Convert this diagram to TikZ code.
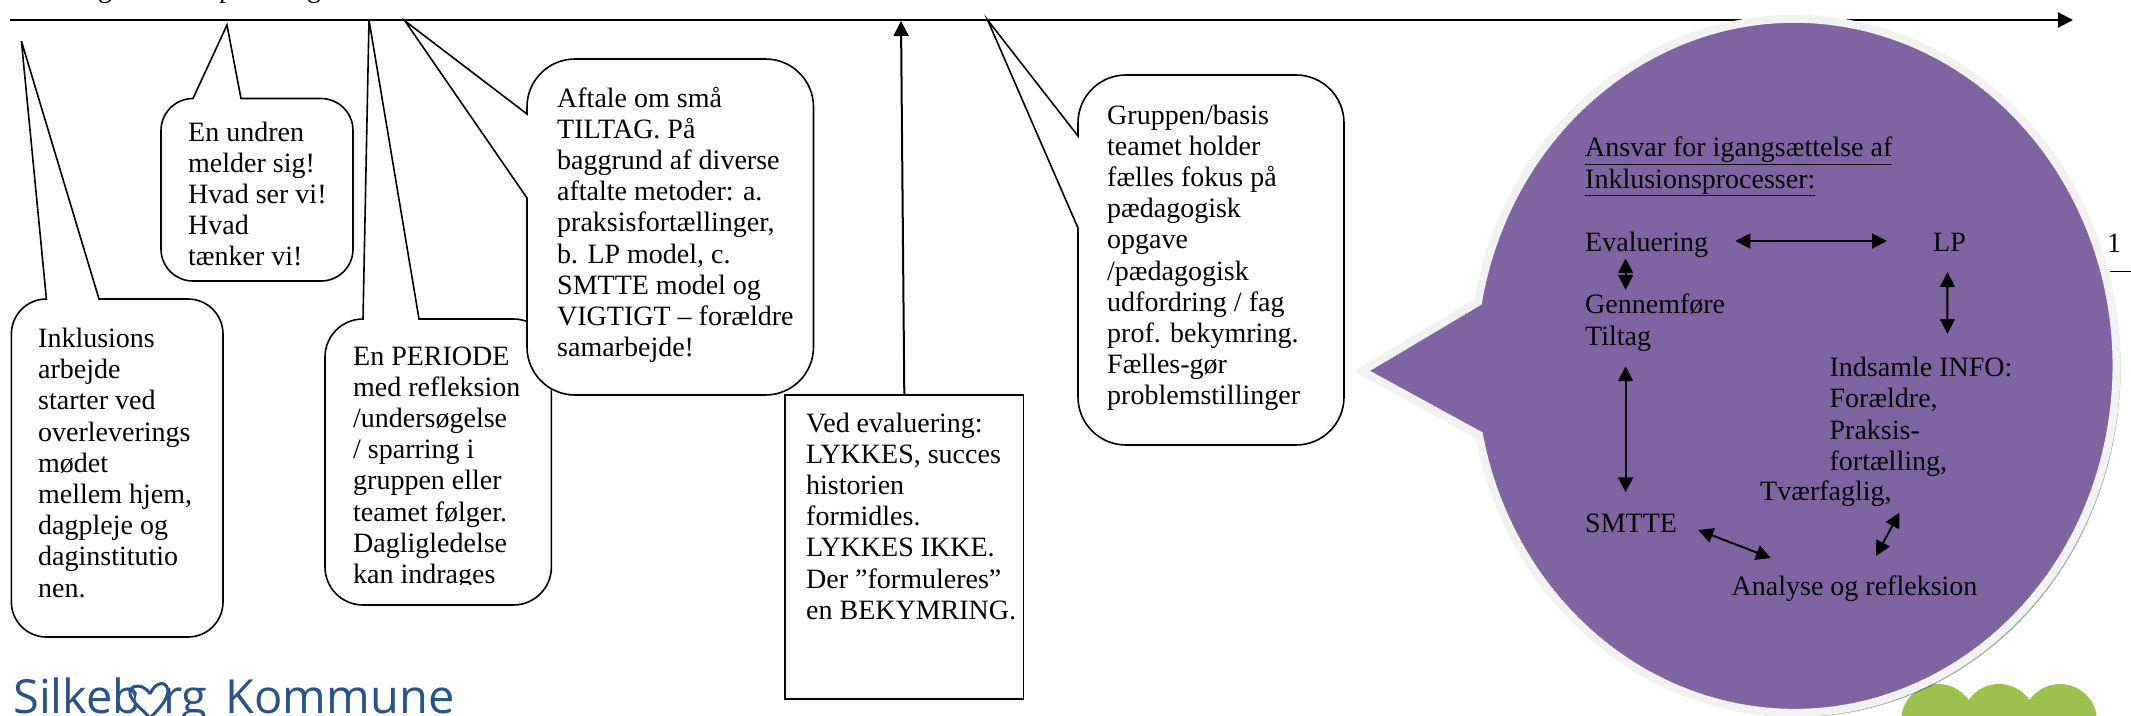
\documentclass[tikz,border=0pt]{standalone}
\usepackage{fontspec}
\usepackage{xcolor}
\setmainfont{Liberation Serif}
\newfontfamily\logofont{Open Sans}
\usetikzlibrary{arrows.meta, positioning}
\definecolor{bubblepurple}{HTML}{8064A2}
\definecolor{bubbleedge}{HTML}{F2F2F2}
\definecolor{logoblue}{HTML}{2A5287}
\definecolor{logogreen}{HTML}{9BC24E}
\tikzset{
  >={Triangle[length=15pt,width=15pt]},
  every node/.style={font=\fontsize{28}{31.2}\selectfont},
  txt/.style={anchor=base west,inner sep=0pt,align=left},
  bubble/.style={draw,fill=white,line width=1.6pt},
  dblarrow/.style={<->,line width=2pt},
}

\begin{document}
\begin{tikzpicture}[x=1pt,y=-1pt]
  \useasboundingbox (0,0) rectangle (2131,715);

  \fill[logogreen] (1938,721) circle (37) (1999,721) circle (37) (2060,721) circle (37);

  \node[txt] (topa) at (98,-3) {g};
  \node[txt] (topb) at (219,-3) {p};
  \node[txt] (topc) at (307,-3) {g};
  \coordinate (linestart) at (10,20);
  \coordinate (lineend) at (2073,20);
  \draw[->,line width=2.2pt] (linestart) -- (lineend);

  \node[txt] (pagenum) at (2107,252.7) {1};
  \draw[line width=1.5pt] (2110,271.7) -- ++(21,0);

  \draw[bubble] (46.4,299) -- (21.4,41) -- (99,299) [rounded corners=35pt] -- (223,299) -- (223,637)
    -- (11.4,637) -- (11.4,299) [sharp corners] -- cycle;
  \node[txt] (inklusion) at (38,597) {Inklusions\\arbejde\\starter ved\\overleverings\\mødet\\mellem hjem,\\dagpleje og\\daginstitutio\\nen.};

  \draw[bubble] (193,98.5) -- (227,25) -- (241,98.5) [rounded corners=32pt] -- (353,98.5) -- (353,281)
    -- (161,281) -- (161,98.5) [sharp corners] -- cycle;
  \begin{scope}
    \clip (170,110) rectangle (345,266);
    \node[txt] (undren) at (188,265.8) {En undren\\melder sig!\\Hvad ser vi!\\Hvad\\tænker vi!};
  \end{scope}

  \draw[bubble] (363,319) -- (369,20) -- (419,319) [rounded corners=38pt] -- (551.4,319) -- (551.4,605)
    -- (325,605) -- (325,319) [sharp corners] -- cycle;
  \begin{scope}
    \clip (335,330) rectangle (540,584);
    \node[txt] (periode) at (353,583.4) {En PERIODE\\med refleksion\\/undersøgelse\\/ sparring i\\gruppen eller\\teamet følger.\\Dagligledelse\\kan indrages};
  \end{scope}

  \draw[bubble] (527,114) -- (405,21) -- (527,198) [rounded corners=48pt] -- (527,395) -- (813.5,395)
    -- (813.5,59) -- (527,59) [sharp corners] -- cycle;
  \node[txt] (aftale) at (557,356.6) {Aftale om små\\TILTAG. På\\baggrund af diverse\\aftalte metoder: a.\\praksisfortællinger,\\b. LP model, c.\\SMTTE model og\\VIGTIGT – forældre\\samarbejde!};

  \node[draw,fill=white,line width=1.5pt,minimum width=238.6pt,minimum height=304pt] (evalbox) at (904.3,547) {};
  \coordinate (evaltip) at (901,21);
  \draw[->,line width=2pt] (evalbox.north) -- (evaltip);
  \node[txt] (ved) at (806,619.2) {Ved evaluering:\\LYKKES, succes\\historien\\formidles.\\LYKKES IKKE.\\Der ”formuleres”\\en BEKYMRING.};

  \draw[bubble] (1078,136) -- (987.6,20) -- (1078,228) [rounded corners=48pt] -- (1078,445) -- (1344,445)
    -- (1344,75) -- (1078,75) [sharp corners] -- cycle;
  \node[txt] (gruppen) at (1107,404.8) {Gruppen/basis\\teamet holder\\fælles fokus på\\pædagogisk\\opgave\\/pædagogisk\\udfordring / fag\\prof. bekymring.\\Fælles-gør\\problemstillinger};

  \fill[black!85,opacity=.4] (1364,374) -- (1480,305) arc[start angle=190.6,end angle=528.5,x radius=323,y radius=348] -- cycle;
  \draw[fill=bubblepurple,draw=bubbleedge,line width=8pt] (1362,371) -- (1478,302)
    arc[start angle=190.6,end angle=528.5,x radius=322,y radius=347] -- cycle;

  \node[txt] (ansvar) at (1585,188) {\underline{Ansvar for igangsættelse af}\\\underline{Inklusionsprocesser:}};
  \node[txt] (evaluering) at (1585,251) {Evaluering};
  \node[txt] (lp) at (1933,251) {LP};
  \node[txt] (gennemfore) at (1585,345) {Gennemføre\\Tiltag};
  \node[txt] (indsamle) at (1829.4,470.2) {Indsamle INFO:\\Forældre,\\Praksis-\\fortælling,};
  \node[txt] (tvaerfaglig) at (1760,500.7) {Tværfaglig,};
  \node[txt] (smtte) at (1585,532) {SMTTE};
  \node[txt] (analyse) at (1731.5,595.5) {Analyse og refleksion};

  \draw[dblarrow] ([xshift=27pt,yshift=10pt]evaluering.base east) -- ([xshift=-46pt,yshift=10pt]lp.base west);
  \draw[dblarrow] ([xshift=40.6pt,yshift=-1pt]evaluering.south west) -- ([xshift=40.6pt,yshift=4pt]gennemfore.north west);
  \draw[dblarrow] ([xshift=14.5pt,yshift=-21pt]lp.base west) -- ([xshift=118pt,yshift=23pt]indsamle.north west);
  \draw[dblarrow] ([xshift=40.6pt,yshift=-15pt]gennemfore.south west) -- ([xshift=40.6pt,yshift=21pt]smtte.north west);
  \draw[dblarrow] ([xshift=21pt,yshift=2pt]smtte.base east) -- ([xshift=39.5pt,yshift=37.5pt]analyse.base west);
  \draw[dblarrow] ([xshift=139.5pt,yshift=-11.8pt]tvaerfaglig.base west) -- ([xshift=144.5pt,yshift=39.5pt]analyse.base west);

  \node[txt,font=\logofont\fontsize{47}{50}\selectfont,text=logoblue] (logo) at (13,713) {Silkeb\hspace{-8pt}\textcolor{white}{o}\hspace{1pt}rg\hspace{6pt} Kommune};
  \draw[logoblue,line width=3pt] (150,694) .. controls (142,680) and (122,686) .. (133,700)
    .. controls (138,707) and (145,712) .. (150,718) .. controls (158,710) and (168,700) .. (168,690)
    .. controls (166,680) and (155,682) .. (150,694);
\end{tikzpicture}
\end{document}
